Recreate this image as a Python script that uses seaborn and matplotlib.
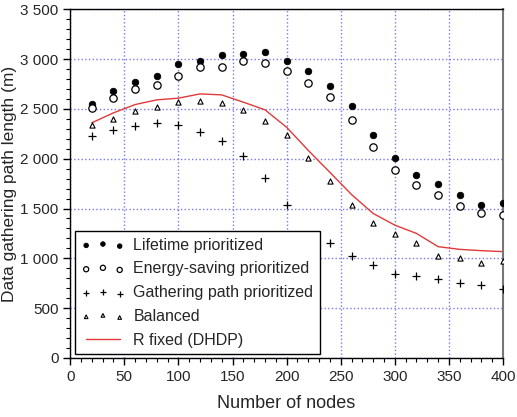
import numpy as np
import pandas as pd
import seaborn as sns
import matplotlib
matplotlib.use("Agg")
import matplotlib.pyplot as plt
from matplotlib.ticker import MultipleLocator, FuncFormatter

# data
nodes = [20, 40, 60, 80, 100, 120, 140, 160, 180, 200,
         220, 240, 260, 280, 300, 320, 340, 360, 380, 400]
lifetime = [2550, 2683, 2767, 2833, 2950, 2977, 3040, 3050, 3067, 2977,
            2877, 2727, 2527, 2233, 2010, 1833, 1743, 1633, 1533, 1557]
energy = [2507, 2607, 2703, 2740, 2827, 2917, 2917, 2980, 2963, 2883,
          2760, 2623, 2383, 2117, 1890, 1740, 1633, 1527, 1450, 1433]
gathering = [2223, 2283, 2327, 2353, 2337, 2267, 2177, 2027, 1803, 1533,
             1230, 1150, 1023, 933, 843, 823, 797, 750, 737, 693]
balanced = [2340, 2400, 2483, 2523, 2573, 2583, 2563, 2493, 2373, 2240,
            2007, 1773, 1533, 1350, 1243, 1150, 1023, 1007, 950, 977]
r_fixed = [2360, 2460, 2543, 2590, 2607, 2650, 2640, 2567, 2490, 2315,
           2083, 1863, 1640, 1450, 1333, 1250, 1117, 1090, 1077, 1067]

sns.set_style("white")
plt.rcParams['font.family'] = ['Liberation Sans', 'DejaVu Sans']

fig = plt.figure(figsize=(5.17, 4.17), dpi=100)
ax = fig.add_axes([0.1358, 0.1415, 0.8372, 0.8365])

sns.scatterplot(x=nodes, y=lifetime, ax=ax, marker='o', s=22, color='black',
                edgecolor='black', linewidth=0.6, label='Lifetime prioritized', zorder=3)
sns.scatterplot(x=nodes, y=energy, ax=ax, marker='o', s=28, facecolor='white',
                edgecolor='black', linewidth=0.9, label='Energy-saving prioritized', zorder=3)
sns.scatterplot(x=nodes, y=gathering, ax=ax, marker='+', s=40, color='black',
                linewidth=0.9, label='Gathering path prioritized', zorder=3)
sns.scatterplot(x=nodes, y=balanced, ax=ax, marker='^', s=14, facecolor='white',
                edgecolor='black', linewidth=0.8, label='Balanced', zorder=3)
sns.lineplot(x=nodes, y=r_fixed, ax=ax, color='#e03a3a', linewidth=1.0,
             label='R fixed (DHDP)', zorder=2)

ax.set_xlim(0, 400)
ax.set_ylim(0, 3500)
ax.xaxis.set_major_locator(MultipleLocator(50))
ax.xaxis.set_minor_locator(MultipleLocator(10))
ax.yaxis.set_major_locator(MultipleLocator(500))
ax.yaxis.set_minor_locator(MultipleLocator(100))
ax.yaxis.set_major_formatter(FuncFormatter(lambda v, p: f"{int(v):,}".replace(",", " ")))

ax.grid(True, which='major', color='#5858e8', linestyle=':', linewidth=1.0, alpha=0.8)
ax.tick_params(which='major', direction='out', length=5, width=1, labelsize=11,
               bottom=True, left=True, color='black')
ax.tick_params(which='minor', direction='out', length=3, width=0.8,
               bottom=True, left=True, color='black')

for side in ['left', 'bottom', 'top']:
    ax.spines[side].set_color('black')
    ax.spines[side].set_linewidth(1.0)
ax.spines['right'].set_color('#777777')
ax.spines['right'].set_linewidth(1.5)

ax.set_xlabel('Number of nodes', fontsize=13, labelpad=8)
ax.set_ylabel('Data gathering path length (m)', fontsize=12.5, labelpad=2)

leg = ax.legend(loc='lower left', bbox_to_anchor=(0.011, 0.011), fontsize=11.5,
                frameon=True, fancybox=False, shadow=False, numpoints=3,
                scatterpoints=3, markerscale=0.7, handlelength=2.7,
                borderaxespad=0, labelspacing=0.55, handletextpad=0.55,
                borderpad=0.4)
leg.get_frame().set_edgecolor('black')
leg.get_frame().set_linewidth(1.0)
leg.get_frame().set_alpha(1)

fig.savefig('out.png', dpi=100)
